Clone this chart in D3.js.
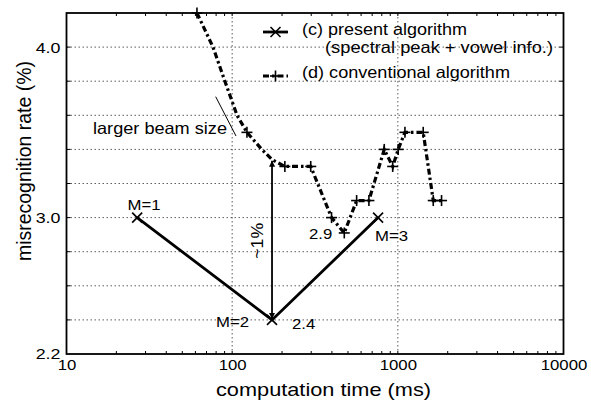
<!DOCTYPE html>
<html>
<head>
<meta charset="utf-8">
<script src="https://cdn.jsdelivr.net/npm/d3@7"></script>
<style>
  body { margin: 0; background: #fff; }
  svg { display: block; }
  text { font-family: "Liberation Sans", Arial, Helvetica, sans-serif; fill: #000; }
</style>
</head>
<body>
<div class="main"></div>
<script>
// (c) present algorithm
var presentTime = [26.7, 174, 760];
var presentRate = [3.0, 2.4, 3.0];
var presentLabel = ["M=1", "M=2", "M=3"];

// (d) conventional algorithm (beam size sweep)
var convTime = [61.3, 76.6, 90.4, 107, 122.8, 151, 174, 208, 298, 398, 475, 564, 669, 828, 931, 1005, 1104, 1423, 1636, 1836];
var convRate = [4.2, 4.0, 3.8, 3.6, 3.5, 3.4, 3.34, 3.3, 3.3, 3.0, 2.91, 3.1, 3.1, 3.4, 3.3, 3.4, 3.5, 3.5, 3.1, 3.1];
var convMarked = [1, 0, 0, 0, 1, 0, 0, 1, 1, 1, 1, 1, 1, 1, 1, 1, 1, 1, 1, 1];

var xTickVals = [10, 100, 1000, 10000];
var xGridVals = [100, 1000];
var yTickVals = [2.2, 3.0, 4.0];
var yGridVals = [2.4, 2.6, 2.8, 3.0, 3.2, 3.4, 3.6, 3.8, 4.0];

// gap between the two algorithms at M=2
var gapTime = 174, gapRate = [2.4, 3.34];

var W = 591, H = 403;
var m = {left: 66.5, top: 13, right: 27.5, bottom: 49};
var iw = W - m.left - m.right, ih = H - m.top - m.bottom;

var svg = d3.select(".main").append("svg")
    .attr("width", W).attr("height", H);

var x = d3.scaleLog().domain([10, 10000]).range([m.left, m.left + iw]);
var y = d3.scaleLinear().domain([2.2, 4.2]).range([m.top + ih, m.top]);

function stretch(sel, k) {
    sel.each(function() {
        var w = this.getComputedTextLength();
        d3.select(this).attr("textLength", w * k).attr("lengthAdjust", "spacingAndGlyphs");
    });
    return sel;
}

svg.append("defs").append("marker")
    .attr("id", "ah")
    .attr("viewBox", "0 0 10 10")
    .attr("refX", 10).attr("refY", 5)
    .attr("markerWidth", 8).attr("markerHeight", 6)
    .attr("markerUnits", "userSpaceOnUse")
    .attr("orient", "auto-start-reverse")
  .append("path").attr("d", "M0,0 L10,5 L0,10 Z").attr("fill", "#000");

// grid
var grid = svg.append("g").attr("stroke", "#333").attr("stroke-width", 0.8)
    .attr("stroke-dasharray", "1.5,2.5");
grid.selectAll(".gy").data(yGridVals).enter().append("line")
    .attr("x1", m.left).attr("x2", m.left + iw)
    .attr("y1", function(d) { return y(d); }).attr("y2", function(d) { return y(d); });
grid.selectAll(".gx").data(xGridVals).enter().append("line")
    .attr("y1", m.top).attr("y2", m.top + ih)
    .attr("x1", function(d) { return x(d); }).attr("x2", function(d) { return x(d); });

// minor ticks (inward) on all four sides
var minor = x.ticks();
var tk = svg.append("g").attr("stroke", "#000").attr("stroke-width", 1);
minor.forEach(function(v) {
    tk.append("line").attr("x1", x(v)).attr("x2", x(v)).attr("y1", m.top + ih).attr("y2", m.top + ih - 3);
    tk.append("line").attr("x1", x(v)).attr("x2", x(v)).attr("y1", m.top).attr("y2", m.top + 3);
});
yGridVals.forEach(function(v) {
    tk.append("line").attr("x1", m.left).attr("x2", m.left + 4).attr("y1", y(v)).attr("y2", y(v));
    tk.append("line").attr("x1", m.left + iw).attr("x2", m.left + iw - 4).attr("y1", y(v)).attr("y2", y(v));
});

// axes
var xAxis = svg.append("g")
    .attr("transform", "translate(0," + (m.top + ih) + ")")
    .call(d3.axisBottom(x).tickValues(xTickVals).tickFormat(d3.format("d")).tickSize(0).tickPadding(5));
xAxis.select(".domain").remove();
xAxis.selectAll("text").attr("font-size", 15.5).attr("font-family", null).call(stretch, 1.08);

var yAxis = svg.append("g")
    .attr("transform", "translate(" + m.left + ",0)")
    .call(d3.axisLeft(y).tickValues(yTickVals).tickFormat(d3.format(".1f")).tickSize(0).tickPadding(6));
yAxis.select(".domain").remove();
yAxis.selectAll("text").attr("font-size", 15.5).attr("font-family", null).call(stretch, 1.15);

svg.append("rect")
    .attr("x", m.left).attr("y", m.top).attr("width", iw).attr("height", ih)
    .attr("fill", "none").attr("stroke", "#000").attr("stroke-width", 1.8);

svg.append("text")
    .attr("x", 323.5).attr("y", 396)
    .attr("text-anchor", "middle").attr("font-size", 18.5)
    .attr("textLength", 215).attr("lengthAdjust", "spacingAndGlyphs")
    .text("computation time (ms)");

svg.append("text")
    .attr("transform", "translate(31,161) rotate(-90)")
    .attr("text-anchor", "middle").attr("font-size", 19.5)
    .attr("textLength", 200).attr("lengthAdjust", "spacingAndGlyphs")
    .text("misrecognition rate (%)");

// conventional algorithm
var convPts = convTime.map(function(t, i) { return {t: t, r: convRate[i], mk: convMarked[i]}; });
svg.append("path")
    .datum(convPts)
    .attr("fill", "none").attr("stroke", "#000").attr("stroke-width", 3.2)
    .attr("stroke-dasharray", "6,3,2.5,3")
    .attr("d", d3.line().x(function(d) { return x(d.t); }).y(function(d) { return y(d.r); }));

function plus(g, cx, cy, s) {
    g.append("line").attr("x1", cx - s).attr("x2", cx + s).attr("y1", cy).attr("y2", cy);
    g.append("line").attr("x1", cx).attr("x2", cx).attr("y1", cy - s).attr("y2", cy + s);
}
function cross(g, cx, cy, s) {
    g.append("line").attr("x1", cx - s).attr("x2", cx + s).attr("y1", cy - s).attr("y2", cy + s);
    g.append("line").attr("x1", cx - s).attr("x2", cx + s).attr("y1", cy + s).attr("y2", cy - s);
}

var mk = svg.append("g").attr("stroke", "#000").attr("stroke-width", 1.6);
convPts.filter(function(d) { return d.mk; }).forEach(function(d) {
    plus(mk, x(d.t), y(d.r), 5.5);
});

// present algorithm
var presPts = presentTime.map(function(t, i) { return {t: t, r: presentRate[i], lab: presentLabel[i]}; });
svg.append("path")
    .datum(presPts)
    .attr("fill", "none").attr("stroke", "#000").attr("stroke-width", 2.8)
    .attr("d", d3.line().x(function(d) { return x(d.t); }).y(function(d) { return y(d.r); }));
presPts.forEach(function(d) { cross(mk, x(d.t), y(d.r), 5); });

// gap arrow
svg.append("line")
    .attr("x1", x(gapTime)).attr("x2", x(gapTime))
    .attr("y1", y(gapRate[0]) - 1).attr("y2", y(gapRate[1]) + 1)
    .attr("stroke", "#000").attr("stroke-width", 1.8)
    .attr("marker-start", "url(#ah)").attr("marker-end", "url(#ah)");
svg.append("text")
    .attr("transform", "translate(" + (x(gapTime) - 9) + "," + (y(d3.mean(gapRate)) + 1) + ") rotate(-90)")
    .attr("text-anchor", "middle").attr("font-size", 16)
    .attr("textLength", 36).attr("lengthAdjust", "spacingAndGlyphs")
    .text("~1%");

// point labels
var ann = svg.append("g").attr("font-size", 15.5);
function label(txt, px, py, dx, dy, anchor) {
    return ann.append("text").attr("x", px + dx).attr("y", py + dy)
        .attr("text-anchor", anchor).text(txt).call(stretch, 1.08);
}
label(presPts[0].lab, x(presPts[0].t), y(presPts[0].r), 7, -8, "middle");
label(presPts[1].lab, x(presPts[1].t), y(presPts[1].r), -23, 7, "end");
label(presPts[1].r.toFixed(1), x(presPts[1].t), y(presPts[1].r), 20, 9, "start");
label(presPts[2].lab, x(presPts[2].t), y(presPts[2].r), -3, 23, "start");
var dip = convPts[10];
label(dip.r.toFixed(1), x(dip.t), y(dip.r), -12, 6, "end");

// beam size note
svg.append("line")
    .attr("x1", 215.7).attr("y1", 96.7).attr("x2", 236).attr("y2", 136)
    .attr("stroke", "#000").attr("stroke-width", 1);
svg.append("text")
    .attr("x", 93).attr("y", 134).attr("font-size", 16.5)
    .attr("textLength", 134).attr("lengthAdjust", "spacingAndGlyphs")
    .text("larger beam size");

// legend
var lg = svg.append("g");
lg.append("line").attr("x1", 263).attr("x2", 288).attr("y1", 32).attr("y2", 32)
    .attr("stroke", "#000").attr("stroke-width", 2.8);
cross(lg.append("g").attr("stroke", "#000").attr("stroke-width", 1.6), 275.5, 32, 5);
lg.append("line").attr("x1", 263).attr("x2", 288).attr("y1", 76).attr("y2", 76)
    .attr("stroke", "#000").attr("stroke-width", 3.2).attr("stroke-dasharray", "6,3,2.5,3");
plus(lg.append("g").attr("stroke", "#000").attr("stroke-width", 1.6), 275.5, 76, 5.5);

lg.append("text").attr("x", 302).attr("y", 35).attr("font-size", 16.5)
    .attr("textLength", 165).attr("lengthAdjust", "spacingAndGlyphs")
    .text("(c) present algorithm");
lg.append("text").attr("x", 325).attr("y", 53).attr("font-size", 16.5)
    .attr("textLength", 228).attr("lengthAdjust", "spacingAndGlyphs")
    .text("(spectral peak + vowel info.)");
lg.append("text").attr("x", 302).attr("y", 78).attr("font-size", 16.5)
    .attr("textLength", 208).attr("lengthAdjust", "spacingAndGlyphs")
    .text("(d) conventional algorithm");
</script>
</body>
</html>
